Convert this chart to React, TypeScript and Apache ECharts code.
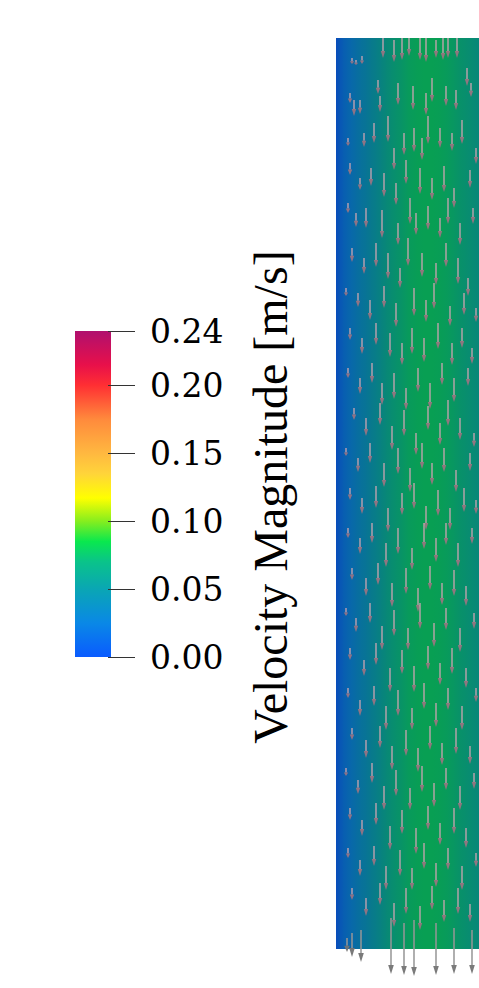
import React, { useEffect, useRef } from "react";
import * as echarts from "echarts";

// ---- Colour map (value -> colour) of the legend ----
const cmapValues = [0.0, 0.025, 0.05, 0.07, 0.085, 0.1, 0.117, 0.135, 0.15, 0.175, 0.2, 0.215, 0.24];
const cmapColors = ["#0a5bff", "#0a88e6", "#0aa6b4", "#0ac38a", "#0ae84e", "#86ee1e", "#ffff00", "#ffd43a", "#ffb840", "#ff8a3c", "#ff2f33", "#e8104a", "#b0106e"];

// ---- Colour bar ticks ----
const legendTicks = [0.0, 0.05, 0.1, 0.15, 0.2, 0.24];
const legendMin = 0;
const legendMax = 0.24;
const legendTitle = "Velocity Magnitude [m/s]";

// ---- Velocity profile across the channel (position from wall, magnitude m/s) ----
const profileX = [0, 3, 7, 11, 15, 20, 25, 30, 35, 40, 45, 50, 55, 60, 66, 72, 80, 88, 96, 104, 112, 118, 124, 130, 136, 143];
const profileV = [0.006, 0.012, 0.018, 0.023, 0.027, 0.032, 0.037, 0.041, 0.046, 0.05, 0.055, 0.06, 0.064, 0.068, 0.071, 0.074, 0.076, 0.077, 0.077, 0.076, 0.074, 0.072, 0.069, 0.066, 0.063, 0.059];
const visibleWidth = 143;
const channelHeight = 911;

// ---- Velocity glyphs: [position across, position along (from top), length] ----
const arrowGlyphs = [
  [47, 0, 20], [58, 2, 22], [66, 0, 22], [73, 0, 18], [84, 0, 22], [90, 0, 24], [100, 2, 18], [107, 0, 22], [112, 0, 20], [121, 0, 20], [16, 20, 6], [20, 22, 5], [26, 18, 8],
  [42, 42, 14], [44, 58, 16], [62, 45, 22], [77, 48, 24], [90, 55, 22], [96, 40, 24], [110, 48, 20], [120, 52, 20], [131, 30, 18], [135, 45, 14], [14, 55, 10], [18, 62, 16], [24, 62, 14],
  [28, 95, 14], [38, 85, 20], [52, 78, 26], [58, 110, 22], [68, 95, 22], [78, 90, 24], [86, 100, 22], [92, 78, 28], [104, 90, 20], [116, 95, 18], [126, 82, 24], [140, 110, 16], [12, 100, 8],
  [14, 125, 12], [24, 140, 12], [35, 130, 18], [48, 135, 24], [60, 145, 22], [70, 122, 24], [84, 130, 26], [96, 140, 22], [108, 128, 26], [118, 150, 20], [134, 132, 18],
  [12, 165, 10], [20, 175, 14], [30, 170, 20], [46, 172, 28], [62, 185, 22], [74, 160, 26], [80, 175, 22], [92, 168, 24], [104, 180, 20], [112, 160, 26], [124, 185, 22], [137, 170, 16],
  [16, 210, 14], [28, 220, 16], [40, 205, 24], [52, 215, 26], [64, 230, 20], [72, 200, 28], [86, 215, 24], [100, 225, 22], [110, 205, 24], [122, 220, 26], [132, 240, 18],
  [10, 250, 8], [22, 255, 14], [34, 262, 20], [48, 248, 22], [60, 265, 24], [78, 250, 28], [90, 262, 22], [98, 245, 26], [114, 268, 20], [128, 255, 22], [140, 270, 14],
  [14, 290, 12], [26, 300, 16], [40, 285, 22], [54, 295, 24], [66, 305, 22], [76, 290, 26], [88, 300, 24], [102, 285, 26], [116, 305, 22], [126, 290, 20], [136, 310, 16],
  [12, 330, 10], [24, 340, 16], [36, 325, 20], [46, 345, 22], [58, 335, 26], [70, 350, 22], [82, 330, 24], [94, 345, 26], [106, 325, 22], [118, 340, 24], [132, 330, 18],
  [18, 370, 12], [30, 380, 18], [44, 365, 22], [56, 388, 24], [68, 372, 26], [80, 395, 22], [92, 368, 24], [104, 385, 22], [112, 362, 26], [124, 380, 22], [138, 395, 14],
  [10, 410, 8], [22, 420, 14], [34, 405, 20], [48, 425, 24], [62, 410, 26], [74, 430, 24], [86, 405, 26], [96, 425, 22], [108, 410, 24], [120, 432, 22], [134, 415, 18],
  [14, 450, 12], [26, 460, 16], [40, 448, 22], [52, 470, 24], [66, 455, 22], [78, 445, 26], [90, 468, 24], [102, 452, 26], [114, 470, 22], [128, 450, 24], [140, 462, 14],
  [12, 490, 10], [24, 500, 16], [36, 485, 20], [50, 505, 24], [62, 490, 26], [76, 510, 22], [88, 485, 26], [100, 500, 24], [110, 485, 22], [122, 505, 24], [136, 490, 16],
  [16, 530, 12], [30, 540, 18], [42, 525, 22], [56, 545, 24], [70, 530, 26], [82, 550, 24], [94, 528, 24], [106, 545, 22], [118, 532, 26], [130, 548, 20],
  [10, 570, 8], [20, 580, 14], [34, 565, 20], [46, 588, 24], [58, 572, 26], [72, 590, 22], [84, 565, 26], [98, 585, 24], [110, 570, 22], [124, 590, 24], [138, 575, 16],
  [14, 610, 12], [28, 622, 16], [40, 605, 22], [54, 630, 24], [66, 612, 24], [78, 628, 26], [92, 608, 24], [104, 625, 22], [116, 610, 26], [130, 630, 20],
  [12, 650, 10], [24, 662, 16], [38, 648, 20], [50, 668, 24], [62, 652, 26], [76, 670, 22], [88, 645, 26], [100, 665, 24], [112, 650, 22], [126, 668, 24], [140, 650, 14],
  [16, 690, 12], [30, 702, 18], [44, 688, 22], [56, 708, 24], [70, 692, 26], [82, 710, 24], [94, 688, 24], [106, 705, 22], [120, 690, 26], [134, 708, 18],
  [10, 730, 8], [22, 742, 14], [36, 725, 20], [48, 748, 24], [60, 732, 26], [74, 750, 22], [86, 728, 26], [98, 745, 24], [110, 730, 22], [124, 748, 24], [138, 735, 16],
  [14, 770, 12], [26, 782, 16], [40, 765, 22], [54, 788, 24], [66, 772, 24], [80, 790, 26], [92, 768, 24], [104, 785, 22], [118, 770, 26], [130, 790, 20],
  [12, 810, 10], [24, 822, 16], [38, 808, 20], [50, 828, 24], [64, 812, 26], [76, 830, 22], [88, 805, 26], [100, 825, 24], [112, 810, 22], [126, 828, 24], [140, 815, 14],
  [16, 850, 12], [30, 860, 18], [44, 845, 22], [58, 865, 24], [70, 850, 26], [84, 868, 24], [96, 848, 24], [108, 862, 22], [122, 850, 26], [134, 866, 18],
  [11, 900, 14], [16, 895, 24], [25, 892, 32], [55, 880, 56], [68, 885, 52], [78, 882, 56], [100, 885, 52], [118, 890, 46], [136, 892, 44],
];

const fieldShade = 0.75;

function hexToRgb(h: string): number[] {
  const n = parseInt(h.slice(1), 16);
  return [(n >> 16) & 255, (n >> 8) & 255, n & 255];
}

function colorFor(v: number, shade: number): string {
  let i = 0;
  while (i < cmapValues.length - 2 && v > cmapValues[i + 1]) i++;
  const a = cmapValues[i];
  const b = cmapValues[i + 1];
  const t = Math.max(0, Math.min(1, (v - a) / (b - a)));
  const ca = hexToRgb(cmapColors[i]);
  const cb = hexToRgb(cmapColors[i + 1]);
  const c = ca.map((x, k) => Math.round((x + (cb[k] - x) * t) * shade));
  return `rgb(${c[0]},${c[1]},${c[2]})`;
}

export default function App() {
  const ref = useRef<HTMLDivElement>(null);

  useEffect(() => {
    if (!ref.current) return;
    const chart = echarts.init(ref.current, null, { renderer: "svg" });

    const fieldSegments = profileX.slice(0, -1).map((x, i) => [x, profileX[i + 1], profileV[i], profileV[i + 1]]);

    const legendStops = cmapValues.map((v, i) => ({
      offset: (v - legendMin) / (legendMax - legendMin),
      color: cmapColors[i],
    }));

    const option: any = {
      animation: false,
      backgroundColor: "#ffffff",
      grid: [
        { left: 336, top: 38, width: visibleWidth, height: channelHeight },
        { left: 75, top: 331, width: 36, height: 326 },
      ],
      xAxis: [
        { gridIndex: 0, type: "value", min: 0, max: visibleWidth, show: false },
        { gridIndex: 1, type: "value", min: 0, max: 1, show: false },
      ],
      yAxis: [
        { gridIndex: 0, type: "value", min: 0, max: channelHeight, inverse: true, show: false },
        {
          gridIndex: 1,
          type: "value",
          min: legendMin,
          max: legendMax,
          position: "right",
          axisLine: { show: false },
          splitLine: { show: false },
          axisTick: { show: false },
          axisLabel: {
            show: true,
            customValues: legendTicks,
            formatter: (v: number) => v.toFixed(2),
            margin: 39,
            fontFamily: "DejaVu Serif",
            fontSize: 33,
            color: "#000000",
          },
        },
      ],
      series: [
        {
          type: "custom",
          xAxisIndex: 0,
          yAxisIndex: 0,
          silent: true,
          data: fieldSegments,
          renderItem: (params: any, api: any) => {
            const x0 = api.value(0);
            const x1 = api.value(1);
            const c0 = colorFor(api.value(2), fieldShade);
            const c1 = colorFor(api.value(3), fieldShade);
            const p0 = api.coord([x0, 0]);
            const p1 = api.coord([x1, channelHeight]);
            return {
              type: "rect",
              shape: { x: p0[0], y: p0[1], width: p1[0] - p0[0] + 0.6, height: p1[1] - p0[1] },
              style: {
                fill: new echarts.graphic.LinearGradient(0, 0, 1, 0, [
                  { offset: 0, color: c0 },
                  { offset: 1, color: c1 },
                ]),
              },
            };
          },
        },
        {
          type: "custom",
          xAxisIndex: 0,
          yAxisIndex: 0,
          silent: true,
          clip: false,
          data: arrowGlyphs,
          renderItem: (params: any, api: any) => {
            const x = api.value(0);
            const y = api.value(1);
            const len = api.value(2);
            const outside = y + len > channelHeight;
            const top = api.coord([x, y]);
            const tip = api.coord([x, y + len]);
            const headLen = Math.min(outside ? 9 : 7, (tip[1] - top[1]) * 0.45);
            const hw = outside ? 2.8 : 2.2;
            const shaftColor = outside ? "rgba(150,150,150,0.95)" : "rgba(205,165,178,0.82)";
            const headColor = outside ? "rgba(115,115,115,0.95)" : "rgba(160,115,130,0.9)";
            return {
              type: "group",
              children: [
                {
                  type: "line",
                  shape: { x1: top[0], y1: top[1], x2: tip[0], y2: tip[1] - headLen },
                  style: { stroke: shaftColor, lineWidth: 1.6 },
                },
                {
                  type: "polygon",
                  shape: {
                    points: [
                      [tip[0] - hw, tip[1] - headLen],
                      [tip[0] + hw, tip[1] - headLen],
                      [tip[0], tip[1]],
                    ],
                  },
                  style: { fill: headColor },
                },
              ],
            };
          },
        },
        {
          type: "custom",
          xAxisIndex: 1,
          yAxisIndex: 1,
          silent: true,
          data: [[0, legendMin, 1, legendMax]],
          renderItem: (params: any, api: any) => {
            const p0 = api.coord([api.value(0), api.value(1)]);
            const p1 = api.coord([api.value(2), api.value(3)]);
            return {
              type: "rect",
              shape: { x: p0[0], y: p1[1], width: p1[0] - p0[0], height: p0[1] - p1[1] },
              style: { fill: new echarts.graphic.LinearGradient(0, 1, 0, 0, legendStops) },
            };
          },
        },
        {
          type: "custom",
          xAxisIndex: 1,
          yAxisIndex: 1,
          silent: true,
          clip: false,
          z: 5,
          data: legendTicks.map((v) => [1, v]),
          renderItem: (params: any, api: any) => {
            const p = api.coord([api.value(0), api.value(1)]);
            const y = Math.round(p[1]) + 0.5;
            return {
              type: "line",
              shape: { x1: p[0] - 3, y1: y, x2: p[0] + 24, y2: y },
              style: { stroke: "#333333", lineWidth: 1 },
            };
          },
        },
      ],
      graphic: [
        {
          type: "text",
          x: 270,
          y: 497,
          rotation: Math.PI / 2,
          style: {
            text: legendTitle,
            font: "48px 'Liberation Serif'",
            fill: "#000000",
            align: "center",
            verticalAlign: "middle",
            textAlign: "center",
            textVerticalAlign: "middle",
          },
        },
      ],
    };

    chart.setOption(option);
    return () => chart.dispose();
  }, []);

  return <div ref={ref} style={{ position: "absolute", left: 0, top: 0, width: 479, height: 988 }} />;
}
